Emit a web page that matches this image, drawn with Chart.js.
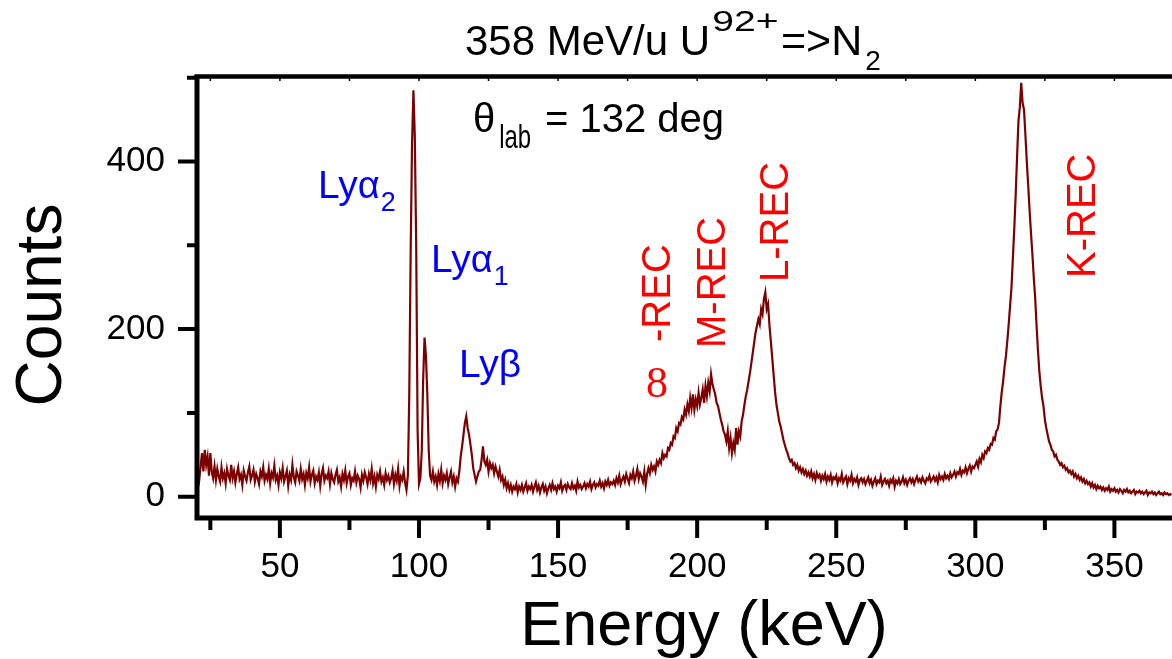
<!DOCTYPE html>
<html>
<head>
<meta charset="utf-8">
<script src="https://cdn.jsdelivr.net/npm/chart.js@4.4.1/dist/chart.umd.min.js"></script>
<style>
  html, body { margin: 0; padding: 0; background: #fff; overflow: hidden; }
  #wrap { width: 1172px; height: 659px; }
</style>
</head>
<body>
<div id="wrap"><canvas id="spectrum" width="1172" height="659"></canvas></div>
<script>
// spectrum: counts per 0.5 keV bin, first bin at 20 keV
var energyStart = 20;
var energyStep = 0.5;
var counts = [
  15, 28, 20, 36, 52, 30, 56, 38, 48, 25, 52, 30, 22, 36, 20, 33, 24, 18, 35, 22,
  28, 16, 33, 25, 20, 38, 22, 30, 17, 27, 35, 21, 26, 14, 31, 24, 19, 29, 36, 20,
  25, 32, 18, 27, 22, 15, 30, 24, 35, 19, 26, 21, 33, 16, 28, 23, 37, 20, 25, 14,
  29, 22, 34, 18, 24, 31, 13, 26, 20, 38, 23, 17, 30, 25, 19, 33, 21, 27, 14, 28,
  22, 35, 18, 26, 31, 16, 24, 20, 29, 13, 27, 34, 19, 25, 22, 30, 15, 28, 21, 17,
  26, 32, 18, 23, 12, 27, 20, 31, 16, 24, 28, 14, 22, 19, 30, 17, 25, 21, 11, 26,
  19, 29, 23, 15, 27, 20, 33, 16, 24, 12, 26, 21, 30, 18, 23, 14, 28, 20, 25, 17,
  22, 31, 15, 26, 19, 33, 13, 24, 20, 30, 17, 8, 25, 120, 290, 420, 485, 430, 300, 80,
  15, 22, 55, 140, 190, 168, 122, 55, 25, 20, 30, 18, 24, 14, 27, 19, 32, 16, 25, 20,
  28, 15, 23, 30, 17, 24, 12, 22, 18, 30, 48, 60, 74, 88, 96, 82, 74, 62, 50, 34,
  26, 18, 24, 30, 32, 44, 60, 42, 38, 44, 30, 40, 34, 38, 28, 36, 30, 24, 32, 20,
  24, 14, 20, 10, 16, 8, 14, 6, 12, 9, 15, 5, 12, 8, 14, 6, 11, 16, 7, 12,
  9, 14, 6, 12, 17, 8, 13, 5, 11, 15, 7, 12, 4, 10, 14, 8, 16, 9, 12, 6,
  13, 10, 17, 7, 12, 14, 8, 15, 11, 9, 16, 10, 13, 7, 18, 11, 14, 9, 12, 16,
  10, 15, 12, 18, 9, 14, 17, 11, 15, 13, 19, 12, 16, 10, 18, 14, 20, 13, 17, 15,
  19, 14, 22, 17, 25, 15, 20, 24, 18, 27, 21, 16, 26, 22, 30, 19, 25, 33, 21, 28,
  24, 18, 30, 14, 27, 34, 28, 38, 32, 36, 30, 42, 38, 44, 40, 52, 46, 50, 48, 58,
  56, 64, 62, 72, 70, 82, 78, 88, 86, 95, 92, 104, 98, 110, 102, 118, 106, 122, 104, 116,
  108, 124, 110, 118, 128, 112, 132, 120, 136, 126, 146, 134, 128, 122, 112, 108, 100, 92, 86, 78,
  74, 66, 78, 58, 70, 52, 64, 56, 82, 62, 78, 72, 90, 98, 110, 120, 128, 138, 148, 160,
  172, 184, 196, 204, 212, 206, 224, 218, 236, 244, 224, 230, 204, 185, 165, 145, 125, 110, 100, 90,
  84, 76, 68, 62, 56, 52, 46, 42, 44, 38, 40, 34, 38, 31, 35, 29, 33, 27, 31, 25,
  29, 24, 30, 22, 27, 20, 28, 23, 26, 19, 25, 21, 27, 18, 24, 20, 26, 17, 23, 21,
  25, 16, 22, 19, 27, 17, 21, 24, 15, 22, 19, 26, 16, 21, 18, 23, 14, 20, 22, 17,
  21, 15, 19, 23, 16, 20, 13, 18, 22, 15, 19, 17, 24, 14, 18, 21, 16, 19, 13, 20,
  17, 22, 12, 19, 16, 21, 15, 18, 23, 16, 20, 14, 19, 22, 17, 21, 15, 20, 24, 18,
  21, 17, 23, 19, 16, 22, 20, 25, 18, 21, 24, 19, 23, 17, 26, 21, 24, 20, 27, 22,
  25, 21, 28, 23, 26, 30, 24, 29, 27, 33, 26, 31, 29, 35, 28, 33, 37, 30, 36, 34,
  38, 42, 36, 45, 41, 50, 46, 54, 52, 58, 56, 63, 62, 70, 68, 78, 80, 88, 108, 125,
  138, 155, 168, 186, 206, 228, 250, 285, 320, 360, 405, 448, 465, 494, 470, 462, 432, 400, 372, 342,
  315, 290, 262, 238, 205, 175, 150, 132, 118, 108, 92, 82, 74, 66, 62, 56, 54, 48, 50, 44,
  42, 38, 40, 35, 37, 32, 34, 29, 31, 27, 30, 24, 27, 22, 25, 20, 23, 18, 21, 16,
  19, 15, 17, 12, 16, 11, 14, 9, 13, 10, 12, 8, 11, 7, 10, 8, 12, 6, 9, 7,
  10, 6, 8, 5, 9, 7, 4, 8, 6, 9, 5, 7, 4, 6, 8, 3, 6, 5, 7, 4,
  6, 3, 5, 7, 2, 5, 4, 6, 3, 5, 2, 4, 6, 3, 4, 2, 5, 3, 4, 2,
  3, 2
];
var xLabels = [50, 100, 150, 200, 250, 300, 350];
var yLabels = [0, 200, 400];
var xMinorStep = 25;
var yMinorStep = 100;

var points = counts.map(function (c, i) {
  return { x: energyStart + i * energyStep, y: c };
});

var FONT = '"Liberation Sans", Arial, sans-serif';
var SERIF = '"Liberation Serif", "Times New Roman", serif';

// text helper, sx/sy stretch the glyphs like the original plot program did
function txt(ctx, s, x, y, size, color, family, sx, sy) {
  ctx.save();
  ctx.translate(x, y);
  ctx.scale(sx || 1, sy || 1);
  ctx.font = size + 'px ' + (family || FONT);
  ctx.fillStyle = color || '#000';
  ctx.fillText(s, 0, 0);
  var wd = ctx.measureText(s).width * (sx || 1);
  ctx.restore();
  return x + wd;
}
function vtxt(ctx, s, x, y, size, color, family) {
  ctx.save();
  ctx.translate(x, y);
  ctx.rotate(-Math.PI / 2);
  txt(ctx, s, 0, 0, size, color, family);
  ctx.restore();
}
// "Lyα" + subscript, alpha stretched to the width it has in the original
function lyAlpha(ctx, x, y, sub, color) {
  var e = txt(ctx, 'Ly', x, y, 39, color);
  ctx.font = '39px ' + FONT;
  var aw = ctx.measureText('α').width;
  e = txt(ctx, 'α', e, y, 39, color, FONT, 22 / aw, 1);
  txt(ctx, sub, e + 1, y + 13, 27, color);
}

var decor = {
  id: 'decor',
  afterDraw: function (chart) {
    var ctx = chart.ctx, a = chart.chartArea;
    var xs = chart.scales.x, ys = chart.scales.y;
    ctx.save();
    ctx.strokeStyle = '#000';
    ctx.textAlign = 'left';
    ctx.textBaseline = 'alphabetic';

    // tick marks
    ctx.lineWidth = 4;
    ctx.beginPath();
    for (var v = xMinorStep; v <= xs.max; v += xMinorStep) {
      if (v < xs.min) continue;
      var px = xs.getPixelForValue(v);
      var len = (v % 50 === 0) ? 20 : 12;
      ctx.moveTo(px, a.bottom); ctx.lineTo(px, a.bottom + len);
    }
    for (var w = 0; w <= ys.max; w += yMinorStep) {
      var py = ys.getPixelForValue(w);
      var l2 = (w % 200 === 0) ? 19 : 10;
      ctx.moveTo(a.left, py); ctx.lineTo(a.left - l2, py);
    }
    ctx.stroke();
    ctx.lineWidth = 1.5;
    ctx.beginPath();
    for (var t = xMinorStep; t <= xs.max; t += xMinorStep) {
      if (t < xs.min) continue;
      var tx = xs.getPixelForValue(t);
      ctx.moveTo(tx, a.top); ctx.lineTo(tx, a.top + 4);
    }
    ctx.stroke();

    // frame
    ctx.lineWidth = 5;
    ctx.beginPath();
    ctx.moveTo(a.left, a.top - 2); ctx.lineTo(a.left, a.bottom + 2.5);
    ctx.moveTo(a.left - 2.5, a.bottom); ctx.lineTo(a.right, a.bottom);
    ctx.stroke();
    ctx.lineWidth = 4.5;
    ctx.beginPath();
    ctx.moveTo(a.left - 2.5, a.top - 0.5); ctx.lineTo(a.right, a.top - 0.5);
    ctx.stroke();

    // title
    var e = txt(ctx, '358 MeV/u U', 465, 55, 42);
    txt(ctx, '92+', e + 2, 31, 29, '#000', FONT, 1.35, 1);
    e = txt(ctx, '=>N', 781, 55, 43);
    txt(ctx, '2', e + 3, 70, 28);

    // angle
    e = txt(ctx, 'θ', 473, 132, 40);
    txt(ctx, 'lab', e + 4, 148, 26, '#000', FONT, 0.92, 1.3);
    txt(ctx, '= 132 deg', 545, 132, 40);

    // Lyman lines
    var blue = '#0000ff';
    lyAlpha(ctx, 318, 198, '2', blue);
    lyAlpha(ctx, 431, 272, '1', blue);
    txt(ctx, 'Lyβ', 459, 377, 39, blue);

    // REC lines
    var red = '#ff0000';
    txt(ctx, '8', 646, 397, 44, red, SERIF);
    vtxt(ctx, '-REC', 670, 342, 40, red);
    vtxt(ctx, 'M-REC', 725, 348, 40, red);
    vtxt(ctx, 'L-REC', 788, 282, 40, red);
    vtxt(ctx, 'K-REC', 1095, 278, 40, red);

    // axis titles
    ctx.textAlign = 'center';
    vtxt(ctx, 'Counts', 61, 305, 64);
    txt(ctx, 'Energy (keV)', 704, 645, 63);
    ctx.restore();
  }
};

var chart = new Chart(document.getElementById('spectrum'), {
  type: 'line',
  data: {
    datasets: [{
      data: points,
      borderColor: '#7d0000',
      borderWidth: 2.2,
      pointRadius: 0,
      tension: 0,
      fill: false
    }]
  },
  options: {
    responsive: false,
    animation: false,
    events: [],
    layout: { padding: { top: 77, left: 0, right: 0, bottom: 0 } },
    plugins: { legend: { display: false }, title: { display: false }, tooltip: { enabled: false } },
    scales: {
      x: {
        type: 'linear',
        min: 20.2,
        max: 370.7,
        afterBuildTicks: function (s) { s.ticks = xLabels.map(function (v) { return { value: v }; }); },
        afterFit: function (s) { s.height = 141; },
        grid: { display: false, drawTicks: false, tickLength: 0 },
        border: { display: false },
        ticks: { color: '#000', font: { family: FONT, size: 35 }, padding: 28, maxRotation: 0, autoSkip: false }
      },
      y: {
        type: 'linear',
        min: -25.5,
        max: 501,
        afterBuildTicks: function (s) { s.ticks = yLabels.map(function (v) { return { value: v }; }); },
        afterFit: function (s) { s.width = 197; },
        grid: { display: false, drawTicks: false, tickLength: 0 },
        border: { display: false },
        ticks: { color: '#000', font: { family: FONT, size: 35 }, padding: 32 }
      }
    }
  },
  plugins: [decor]
});
</script>
</body>
</html>
